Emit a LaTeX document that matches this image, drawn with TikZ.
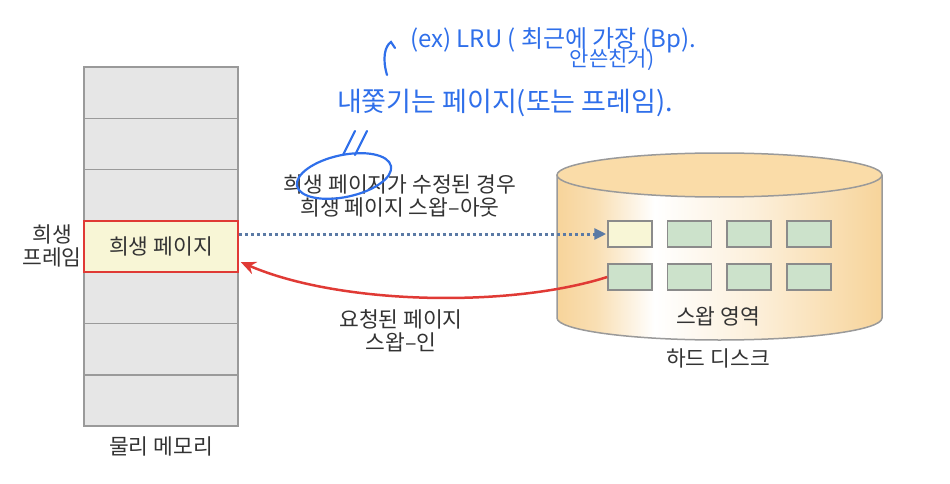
\documentclass[tikz,border=0pt]{standalone}
\usepackage{fontspec}
\setmainfont{Noto Sans CJK KR}
\usetikzlibrary{arrows.meta, positioning}

\definecolor{txtgray}{HTML}{333333}
\definecolor{slotgray}{HTML}{E6E6E6}
\definecolor{linegray}{HTML}{9A9A9A}
\definecolor{victimfill}{HTML}{F8F6D6}
\definecolor{victimred}{HTML}{E03A35}
\definecolor{swapgreen}{HTML}{CCE2CB}
\definecolor{diskor}{HTML}{F7D49A}
\definecolor{disktop}{HTML}{FADCA8}
\definecolor{outblue}{HTML}{5B7AA5}
\definecolor{penblue}{HTML}{2F6FEA}

\pgfdeclarehorizontalshading{diskshade}{100bp}{color(0bp)=(diskor); color(25bp)=(diskor); color(31bp)=(diskor!75); color(40bp)=(white); color(55bp)=(diskor!35); color(75bp)=(diskor); color(100bp)=(diskor)}

\tikzset{
    slot/.style={draw=linegray, line width=1.5pt, fill=slotgray, minimum width=154pt, minimum height=51.3pt, inner sep=0pt},
    victimslot/.style={draw=victimred, line width=1.5pt, fill=victimfill, minimum width=154pt, minimum height=51.3pt, inner sep=0pt},
    swapbox/.style={draw=linegray!90!black, line width=1.5pt, fill=swapgreen, minimum width=44pt, minimum height=26pt, inner sep=0pt},
    lbl/.style={text=txtgray, font=\fontsize{21.5}{23}\selectfont, align=center, inner sep=0pt},
    pen/.style={penblue, line width=2.2pt, line cap=round},
    pentext/.style={text=penblue, font=\fontsize{27}{30}\selectfont, inner sep=0pt},
    swapout/.style={outblue, line width=3pt, dash pattern=on 3pt off 3pt, -{Triangle[length=12pt, width=11pt]}},
    swapin/.style={victimred, line width=2.5pt, -{Stealth[length=15pt, width=13pt]}},
}

\begin{document}
\begin{tikzpicture}[x=1pt, y=-1pt]
    \useasboundingbox (0,0) rectangle (950,484);
    %%% Physical memory
    \foreach \i in {0,...,6}
        \node[slot] (m\i) at (161, {92.65+\i*51.3}) {};
    \node[victimslot] (victim) at (m3) {};
    \node[lbl] (victimtxt) at (victim) {희생 페이지};
    \node[lbl] (framelbl) at (52,246) {희생\\프레임};
    \node[lbl] (memlbl) at (161,446) {물리 메모리};
    %
    %%% Hard disk
    \fill[shading=diskshade] (557,175) -- (557,318) arc[start angle=180, end angle=0, x radius=162.5, y radius=22] -- (882,175) -- cycle;
    \draw[linegray, line width=1.5pt] (557,175) -- (557,318) arc[start angle=180, end angle=0, x radius=162.5, y radius=22] -- (882,175);
    \draw[linegray, line width=1.5pt, fill=disktop] (719.5,175) ellipse[x radius=162.5, y radius=22];
    \foreach \r/\y in {1/234, 2/277}
        \foreach \c/\x in {1/630, 2/689.5, 3/749, 4/809}
            \node[swapbox] (d\r\c) at (\x,\y) {};
    \node[swapbox, fill=victimfill] at (d11) {}; % swapped-out page
    \node[lbl] (arealbl) at (718,316) {스왑 영역};
    \node[lbl] (disklbl) at (718,358) {하드 디스크};
    %
    %%% Swap out / swap in
    \draw[swapout] (victim.east |- d11.west) -- ([xshift=-1pt]d11.west);
    \draw[swapin] (d21.west) .. controls (510,308) and (340,305) .. ([yshift=-15.5pt, xshift=2pt]victim.east);
    \node[lbl] (outlbl) at (400,196) {희생 페이지가 수정된 경우\\희생 페이지 스왑–아웃};
    \node[lbl] (inlbl) at (401,331) {요청된 페이지\\스왑–인};
    %
    %%% Handwritten notes
    \draw[pen, rotate around={12:(344,176)}] (344,176) ellipse[x radius=48, y radius=21];
    \draw[pen] (343,155) -- (355,131);
    \draw[pen] (355,155) -- (367,131);
    \node[pentext] (evicted) at (505,103) {내쫓기는 페이지(또는 프레임).};
    \draw[pen] (387,75) .. controls (382,58) and (385,46) .. (391,42) -- (395,48);
    \node[pentext, font=\fontsize{24}{28}\selectfont] (lrulbl) at (553,40) {(ex) LRU ( 최근에 가장 (Bp).};
    \node[pentext, font=\fontsize{21}{24}\selectfont] (lrulbl2) at (612,60) {안쓴친거)};
\end{tikzpicture}
\end{document}
